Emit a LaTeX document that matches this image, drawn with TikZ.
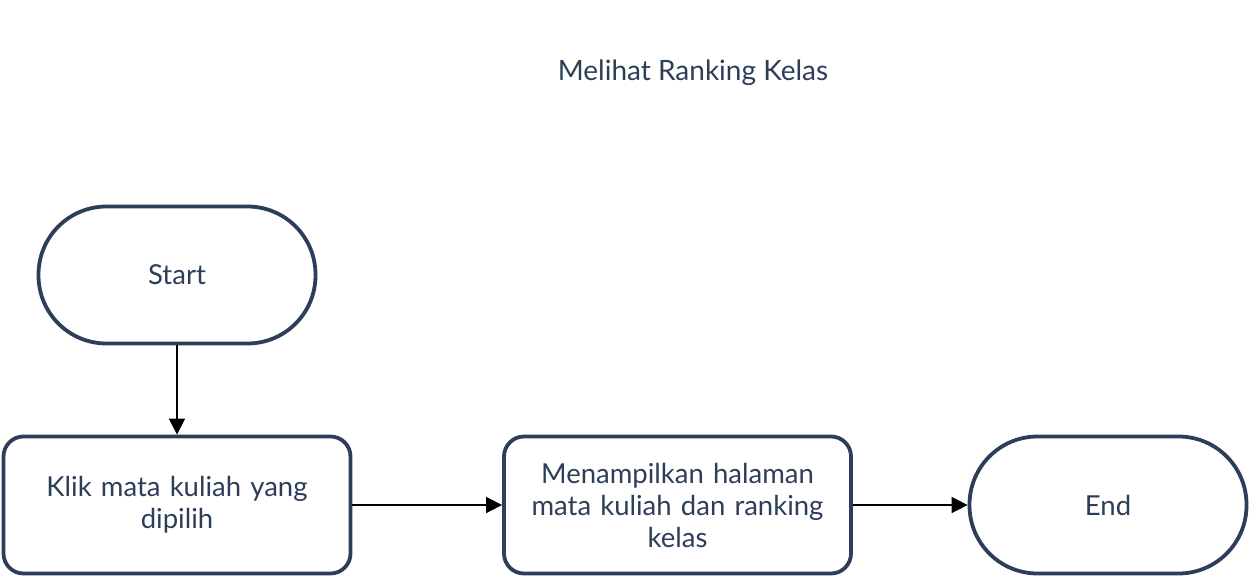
\documentclass[tikz,border=0pt]{standalone}
\usepackage{fontspec}
\setmainfont{Lato}
\usetikzlibrary{arrows,arrows.meta,positioning}
\definecolor{navy}{HTML}{2C3E58}
\tikzset{
	flownode/.style = {align=center, inner sep=0pt, text centered,
		text=navy, draw=navy, line width=3.8pt, font=\fontsize{27.5}{32}\selectfont},
	fl_term/.style = {flownode, rectangle, rounded corners=68pt,
		minimum width=277pt, minimum height=137pt},% terminal, start / end
	fl_proc/.style = {flownode, rectangle, rounded corners=20pt,
		minimum width=347pt, minimum height=137pt, text width=340pt},% proses
	fl_link/.style = {-{Triangle[length=16pt,width=16pt]}, line width=1.6pt, black}
}
\begin{document}
\begin{tikzpicture}[x=1pt,y=-1pt]
\useasboundingbox (0,0) rectangle (1252,578);
\node [text=navy, font=\fontsize{28}{32}\selectfont] (title) at (693,73) {Melihat Ranking Kelas};
\node [fl_term] (start) at (177,275) {Start};
\node [fl_proc] (klik) at (177,505) {Klik mata kuliah yang\\dipilih};
\node [fl_proc] (tampil) at (677.5,505) {Menampilkan halaman\\mata kuliah dan ranking\\kelas};
\node [fl_term] (end) at (1108,505) {End};
\draw [fl_link] (start) -- (klik);
\draw [fl_link] (klik) -- (tampil);
\draw [fl_link] (tampil) -- (end);
\end{tikzpicture}
\end{document}
